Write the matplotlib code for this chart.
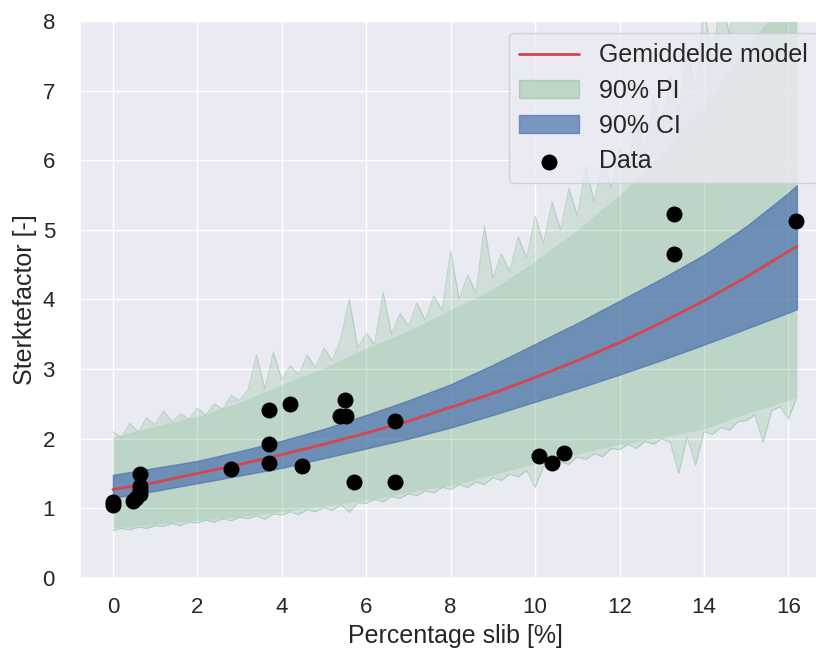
import numpy as np
import matplotlib
matplotlib.use('Agg')
import matplotlib.pyplot as plt
import seaborn as sns

sns.set_theme(style='darkgrid')
plt.rcParams['font.family'] = ['Liberation Sans', 'DejaVu Sans']

# measured data
data_x = [0, 0, 0.48, 0.55, 0.64, 0.64, 0.64, 0.64, 2.8, 3.7, 3.7, 3.7, 4.19, 4.49,
          5.38, 5.53, 5.5, 5.7, 6.68, 6.68, 10.1, 10.4, 10.69, 13.29, 13.29, 16.18]
data_y = [1.05, 1.09, 1.10, 1.15, 1.20, 1.26, 1.32, 1.49, 1.57, 2.41, 1.93, 1.65, 2.50, 1.61,
          2.33, 2.33, 2.56, 1.38, 2.25, 1.38, 1.75, 1.65, 1.80, 5.22, 4.65, 5.12]

# mean model + 90% credible interval
model_x = [0, 1, 2, 3, 4, 5, 6, 7, 8, 9, 10, 11, 12, 13, 14, 15, 16, 16.2]
model_mean = [1.27, 1.37, 1.50, 1.63, 1.77, 1.92, 2.08, 2.25, 2.45, 2.65, 2.88, 3.12,
              3.38, 3.67, 3.98, 4.32, 4.69, 4.76]
ci_upper = [1.48, 1.58, 1.68, 1.82, 1.97, 2.14, 2.34, 2.55, 2.78, 3.06, 3.36, 3.66,
            3.98, 4.30, 4.64, 5.05, 5.53, 5.64]
ci_lower = [1.15, 1.25, 1.36, 1.47, 1.58, 1.72, 1.86, 2.00, 2.16, 2.34, 2.53, 2.72,
            2.92, 3.13, 3.35, 3.58, 3.81, 3.86]

# 90% prediction interval: smooth core of the band
pi_core_upper = [2.02, 2.18, 2.32, 2.52, 2.78, 3.02, 3.30, 3.55, 3.85, 4.15, 4.55, 5.00,
                 5.50, 6.10, 6.80, 7.60, 8.40, 8.60]
pi_core_lower = [0.72, 0.77, 0.83, 0.88, 0.95, 1.03, 1.12, 1.23, 1.33, 1.48, 1.64, 1.78,
                 1.92, 2.02, 2.14, 2.36, 2.55, 2.62]

# noisy (sampled) edges of the prediction interval
pi_x = np.round(np.arange(0, 16.21, 0.2), 1)
pi_upper = [2.10, 2.02, 2.22, 2.10, 2.30, 2.20, 2.40, 2.24, 2.36, 2.28,
            2.44, 2.34, 2.50, 2.42, 2.62, 2.55, 2.70, 3.20, 2.72, 3.24,
            2.85, 3.05, 2.92, 3.20, 3.02, 3.30, 3.12, 3.45, 4.00, 3.30,
            3.52, 3.35, 4.10, 3.50, 3.80, 3.62, 3.95, 3.70, 4.05, 3.85,
            4.70, 4.00, 4.35, 4.10, 5.05, 4.30, 4.65, 4.40, 4.90, 4.60,
            5.20, 4.80, 5.40, 5.00, 5.60, 5.20, 5.90, 5.40, 6.00, 5.60,
            6.20, 5.85, 6.60, 6.10, 6.90, 6.40, 7.20, 6.70, 7.60, 7.00,
            8.20, 7.40, 8.40, 7.80, 8.80, 8.10, 9.00, 8.40, 9.30, 8.80,
            9.50, 9.20]
pi_lower = [0.68, 0.71, 0.69, 0.73, 0.71, 0.75, 0.74, 0.78, 0.75, 0.80,
            0.79, 0.83, 0.80, 0.85, 0.82, 0.87, 0.85, 0.89, 0.84, 0.92,
            0.90, 0.95, 0.91, 0.98, 0.95, 1.01, 0.97, 1.05, 0.94, 1.08,
            1.07, 1.13, 1.09, 1.17, 1.14, 1.21, 1.18, 1.25, 1.22, 1.30,
            1.27, 1.34, 1.30, 1.38, 1.34, 1.44, 1.40, 1.49, 1.45, 1.54,
            1.30, 1.60, 1.58, 1.66, 1.63, 1.74, 1.70, 1.78, 1.74, 1.86,
            1.84, 1.92, 1.86, 1.96, 1.92, 2.00, 1.94, 1.50, 2.02, 1.62,
            2.10, 2.06, 2.16, 2.12, 2.24, 2.26, 2.34, 1.95, 2.40, 2.46,
            2.28, 2.60]

green = '#55a868'
blue = '#4c72b0'
red = '#d64550'

fig = plt.figure(figsize=(8.16, 6.53), dpi=100)
ax = fig.add_axes([0.098, 0.115, 0.92, 0.853])

ax.fill_between(pi_x, pi_lower, pi_upper, color=green, alpha=0.17, lw=0, zorder=1)
ax.plot(pi_x, pi_upper, color=green, alpha=0.3, lw=0.8, zorder=1)
ax.plot(pi_x, pi_lower, color=green, alpha=0.3, lw=0.8, zorder=1)
ax.fill_between(model_x, pi_core_lower, pi_core_upper, color=green, alpha=0.16, lw=0, zorder=1)
ci = ax.fill_between(model_x, ci_lower, ci_upper, color=blue, alpha=0.7, lw=1, zorder=2)
line, = ax.plot(model_x, model_mean, color=red, lw=2, zorder=3)
pts = ax.scatter(data_x, data_y, s=110, color='black', zorder=4)

# legend proxy for the prediction band
pi = plt.Rectangle((0, 0), 1, 1, facecolor=green, edgecolor=green, alpha=0.3)

ax.set_xlim(-0.78, 17.0)
ax.set_ylim(0, 8)
ax.set_xticks(range(0, 17, 2))
ax.set_yticks(range(0, 9))
ax.tick_params(axis='both', labelsize=16, length=0)
ax.tick_params(axis='x', pad=14)
ax.tick_params(axis='y', pad=18)
ax.set_xlabel('Percentage slib [%]', fontsize=18, labelpad=4)
ax.set_ylabel('Sterktefactor [-]', fontsize=18, labelpad=4)

ax.legend([line, pi, ci, pts], ['Gemiddelde model', '90% PI', '90% CI', 'Data'],
          loc='upper right', fontsize=18, handlelength=2.4, labelspacing=0.45,
          framealpha=0.8)

fig.savefig('out.png', dpi=100)
